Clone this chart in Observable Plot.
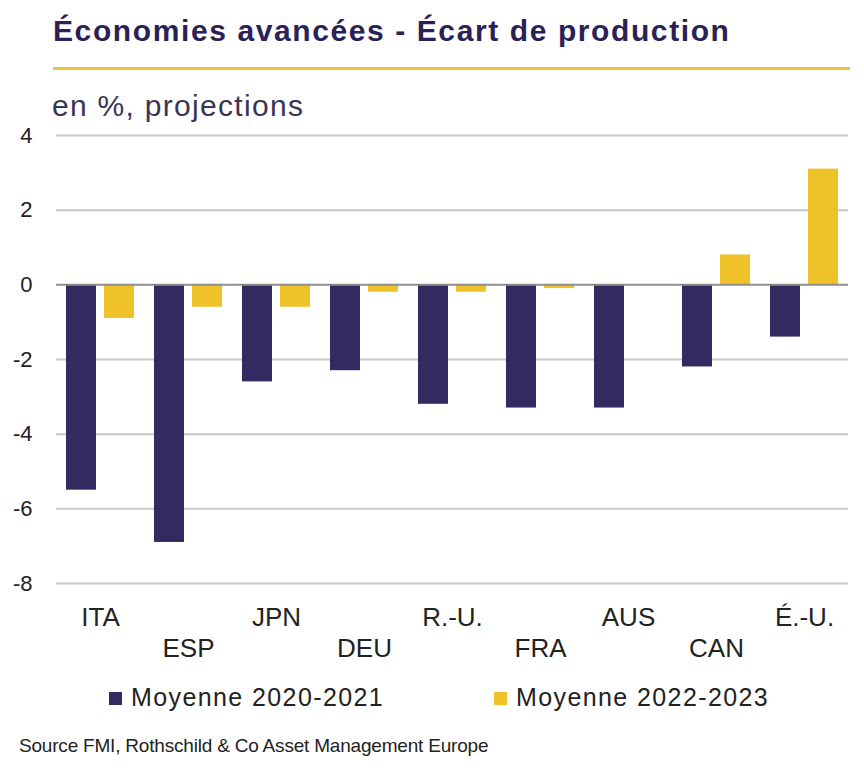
<!DOCTYPE html>
<html>
<head>
<meta charset="utf-8">
<script src="https://cdn.jsdelivr.net/npm/d3@7"></script>
<script src="https://cdn.jsdelivr.net/npm/@observablehq/plot@0.6"></script>
<style>
  body { margin:0; background:#fff; font-family:"Liberation Sans", Arial, sans-serif; }
  #wrap { position:relative; width:864px; height:775px; overflow:hidden; }
  .abs { position:absolute; white-space:nowrap; line-height:1; }
  #title { left:53px; top:16px; font-size:30px; font-weight:bold; color:#2a2256; letter-spacing:1.6px; }
  #rule { left:53px; top:67px; width:797px; height:3px; background:#e8c740; }
  #subtitle { left:52px; top:91px; font-size:30px; color:#3a3556; letter-spacing:1.3px; }
  #chart { left:0; top:120px; }
  .sw { position:absolute; width:13px; height:13px; }
  .leg { font-size:25px; color:#222; letter-spacing:1.4px; }
  #source { left:19px; top:736px; font-size:19px; color:#222; letter-spacing:-0.2px; }
</style>
</head>
<body>
<div id="wrap">
  <div class="abs" id="title">Économies avancées - Écart de production</div>
  <div class="abs" id="rule"></div>
  <div class="abs" id="subtitle">en %, projections</div>
  <div class="abs" id="chart"></div>
  <div id="legend"></div>
  <div class="abs" id="source">Source FMI, Rothschild &amp; Co Asset Management Europe</div>
</div>
<script>
// ----------------- data -----------------
const countries = ["ITA", "ESP", "JPN", "DEU", "R.-U.", "FRA", "AUS", "CAN", "É.-U."];
const moy2020 = [-5.5, -6.9, -2.6, -2.3, -3.2, -3.3, -3.3, -2.2, -1.4];
const moy2022 = [-0.9, -0.6, -0.6, -0.2, -0.2, -0.1, 0, 0.8, 3.1];
const series = ["Moyenne 2020-2021", "Moyenne 2022-2023"];
const colors = ["#342a62", "#efc22a"];
const yTicks = [-8, -6, -4, -2, 0, 2, 4];

// --------------- helpers -----------------
const rows = countries.flatMap((c, i) => [
  { country: c, serie: series[0], value: moy2020[i] },
  { country: c, serie: series[1], value: moy2022[i] }
]);
// labels alternate between two rows
const upperLabels = countries.filter((d, i) => i % 2 === 0);
const lowerLabels = countries.filter((d, i) => i % 2 === 1);

// --------------- chart -----------------
const fig = Plot.plot({
  width: 864, height: 550,
  marginLeft: 52, marginRight: 12, marginTop: 15, marginBottom: 87,
  style: { fontFamily: "Liberation Sans, Arial, sans-serif", fontSize: "22px", color: "#222" },
  fx: { domain: countries, padding: 0, axis: null },
  x: { domain: series, paddingInner: 0.205, paddingOuter: 0.242, axis: null },
  y: { domain: [-8, 4], axis: null },
  color: { domain: series, range: colors },
  marks: [
    Plot.ruleY(yTicks.filter(d => d !== 0), { stroke: "#c8c8c8", strokeWidth: 2 }),
    Plot.barY(rows, { fx: "country", x: "serie", y: "value", fill: "serie" }),
    Plot.ruleY([0], { stroke: "#8e8e8e", strokeWidth: 2 }),
    Plot.axisY(yTicks, { tickSize: 0, tickPadding: 24, label: null, fontSize: 22, tickFormat: d => String(d) }),
    Plot.text(upperLabels, { fx: d => d, text: d => d, frameAnchor: "bottom", dy: 42, fontSize: 26, fill: "#222" }),
    Plot.text(lowerLabels, { fx: d => d, text: d => d, frameAnchor: "bottom", dy: 73, fontSize: 26, fill: "#222" })
  ]
});
document.getElementById("chart").appendChild(fig);

// legend
const legX = [109, 494];
const legend = document.getElementById("legend");
series.forEach((s, i) => {
  const sw = document.createElement("div");
  sw.className = "sw";
  sw.style.left = legX[i] + "px";
  sw.style.top = "692px";
  sw.style.background = colors[i];
  legend.appendChild(sw);
  const t = document.createElement("div");
  t.className = "abs leg";
  t.style.left = (legX[i] + 22) + "px";
  t.style.top = "685px";
  t.textContent = s;
  legend.appendChild(t);
});
</script>
</body>
</html>
